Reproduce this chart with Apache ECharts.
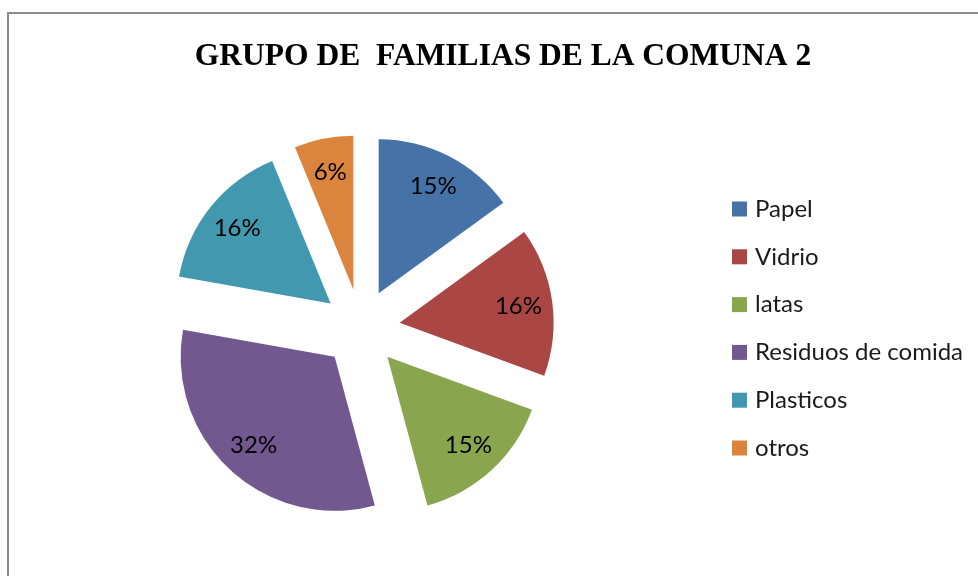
<!DOCTYPE html>
<html>
<head>
<meta charset="utf-8">
<script src="https://cdn.jsdelivr.net/npm/echarts@6/dist/echarts.min.js"></script>
<style>
html,body{margin:0;padding:0;background:#fff;}
#c{width:978px;height:576px;}
</style>
</head>
<body>
<div id="c"></div>
<script>
const titleText = 'GRUPO DE  FAMILIAS DE LA COMUNA 2';
const categories = ['Papel', 'Vidrio', 'latas', 'Residuos de comida', 'Plasticos', 'otros'];
const values = [15, 15.6, 15.2, 32, 16, 6.2];
const colors = ['#4572A7', '#AA4643', '#89A54E', '#71588F', '#4198AF', '#DB843D'];

const chart = echarts.init(document.getElementById('c'), null, {renderer: 'canvas'});
const pieData = categories.map((n, i) => ({
  name: n, value: values[i], selected: true,
  itemStyle: {color: colors[i]}
}));
const labelData = categories.map((n, i) => ({
  name: n, value: values[i], selected: true
}));

const option = {
  animation: false,
  backgroundColor: '#ffffff',
  title: {
    text: titleText,
    left: 498, top: 36, textAlign: 'center',
    textStyle: {fontFamily: '"Liberation Serif", "Times New Roman", serif', fontWeight: 'bold', fontSize: 31.5, color: '#000'}
  },
  graphic: [{
    type: 'rect', silent: true, z: -1,
    shape: {x: 8, y: 13, width: 1000, height: 600},
    style: {fill: 'none', stroke: '#8c8c8c', lineWidth: 2}
  }],
  legend: {
    orient: 'vertical',
    left: 727, top: 192,
    itemWidth: 15, itemHeight: 15, itemGap: 23.8,
    icon: 'rect',
    data: categories,
    textStyle: {fontFamily: 'Lato, "Open Sans", sans-serif', fontSize: 24, color: '#1a1a1a', lineHeight: 24, padding: [0, 0, 0, 3]}
  },
  series: [{
    type: 'pie',
    center: [361, 328],
    radius: [0, 154],
    startAngle: 90,
    clockwise: true,
    selectedMode: 'multiple',
    selectedOffset: 39,
    emphasis: {disabled: true},
    select: {disabled: false},
    label: {show: false},
    labelLine: {show: false},
    itemStyle: {borderWidth: 0},
    data: pieData
  }, {
    type: 'pie',
    center: [361, 328],
    radius: [80, 154],
    startAngle: 90,
    clockwise: true,
    selectedMode: 'multiple',
    selectedOffset: 39,
    silent: true,
    percentPrecision: 0,
    emphasis: {disabled: true},
    itemStyle: {color: 'rgba(0,0,0,0)', borderWidth: 0},
    label: {show: true, position: 'inner', formatter: '{d}%', fontFamily: 'Lato, "Open Sans", sans-serif', fontSize: 24, color: '#000'},
    labelLine: {show: false},
    data: labelData,
    z: 3
  }]
};
chart.setOption(option);
</script>
</body>
</html>
